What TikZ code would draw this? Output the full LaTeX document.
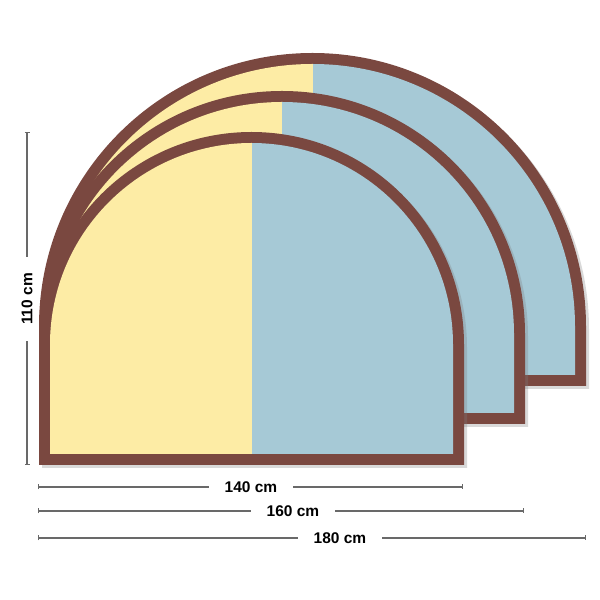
\documentclass[tikz,border=0pt]{standalone}
\usepackage{fontspec}
\setmainfont{Liberation Sans}
\usetikzlibrary{shadows,arrows.meta}

\definecolor{framebrown}{RGB}{122,72,64}
\definecolor{leftyellow}{RGB}{253,236,165}
\definecolor{rightblue}{RGB}{166,201,214}
\definecolor{dimgray}{RGB}{105,105,105}

% arch: left x, right x, bottom y, top y (outer edge)
\newcommand{\archpanel}[4]{%
	\pgfmathsetmacro{\archrad}{(#2-#1)/2}
	\pgfmathsetmacro{\archinner}{\archrad-11}
	\pgfmathsetmacro{\archmid}{(#1+#2)/2}
	\pgfmathsetmacro{\archcy}{#4-\archrad}
	\fill[framebrown, drop shadow={shadow xshift=3pt, shadow yshift=-3pt, opacity=0.3}]
		(#1,#3) -- (#1,\archcy) arc (180:0:\archrad) -- (#2,#3) -- cycle;
	\begin{scope}
		\clip (#1+11,#3+11) -- (#1+11,\archcy) arc (180:0:\archinner) -- (#2-11,#3+11) -- cycle;
		\fill[leftyellow] (#1,#3) rectangle (\archmid,#4);
		\fill[rightblue] (\archmid,#3) rectangle (#2,#4);
	\end{scope}}

\begin{document}
\begin{tikzpicture}[x=1pt, y=1pt]
\useasboundingbox (0,0) rectangle (600,600);
\begin{scope}
	\tikzstyle{every node}=[font=\fontsize{15.5}{17}\selectfont\bfseries, inner xsep=16pt, inner ysep=2pt]
	\tikzstyle{dim}=[draw=dimgray, line width=1.3pt, -{Bar[width=5pt, line width=1.1pt]}]

	% panels, back to front
	\archpanel{39}{586}{214}{547}
	\archpanel{39}{525}{176}{509}
	\archpanel{39}{464}{135}{468}

	% widths
	\coordinate (l140) at (38,113);
	\coordinate (r140) at (463,113);
	\node (w140) at (251,113) {140 cm};
	\coordinate (l160) at (38,89);
	\coordinate (r160) at (524,89);
	\node (w160) at (293,89) {160 cm};
	\coordinate (l180) at (38,62);
	\coordinate (r180) at (586,62);
	\node (w180) at (340,62) {180 cm};

	% height
	\coordinate (top110) at (27,468);
	\coordinate (bot110) at (27,135);
	\node[rotate=90] (h110) at (27,301) {110 cm};

	\draw [dim] (w140) -- (l140);
	\draw [dim] (w140) -- (r140);
	\draw [dim] (w160) -- (l160);
	\draw [dim] (w160) -- (r160);
	\draw [dim] (w180) -- (l180);
	\draw [dim] (w180) -- (r180);
	\draw [dim] (h110) -- (top110);
	\draw [dim] (h110) -- (bot110);
\end{scope}
\end{tikzpicture}
\end{document}
